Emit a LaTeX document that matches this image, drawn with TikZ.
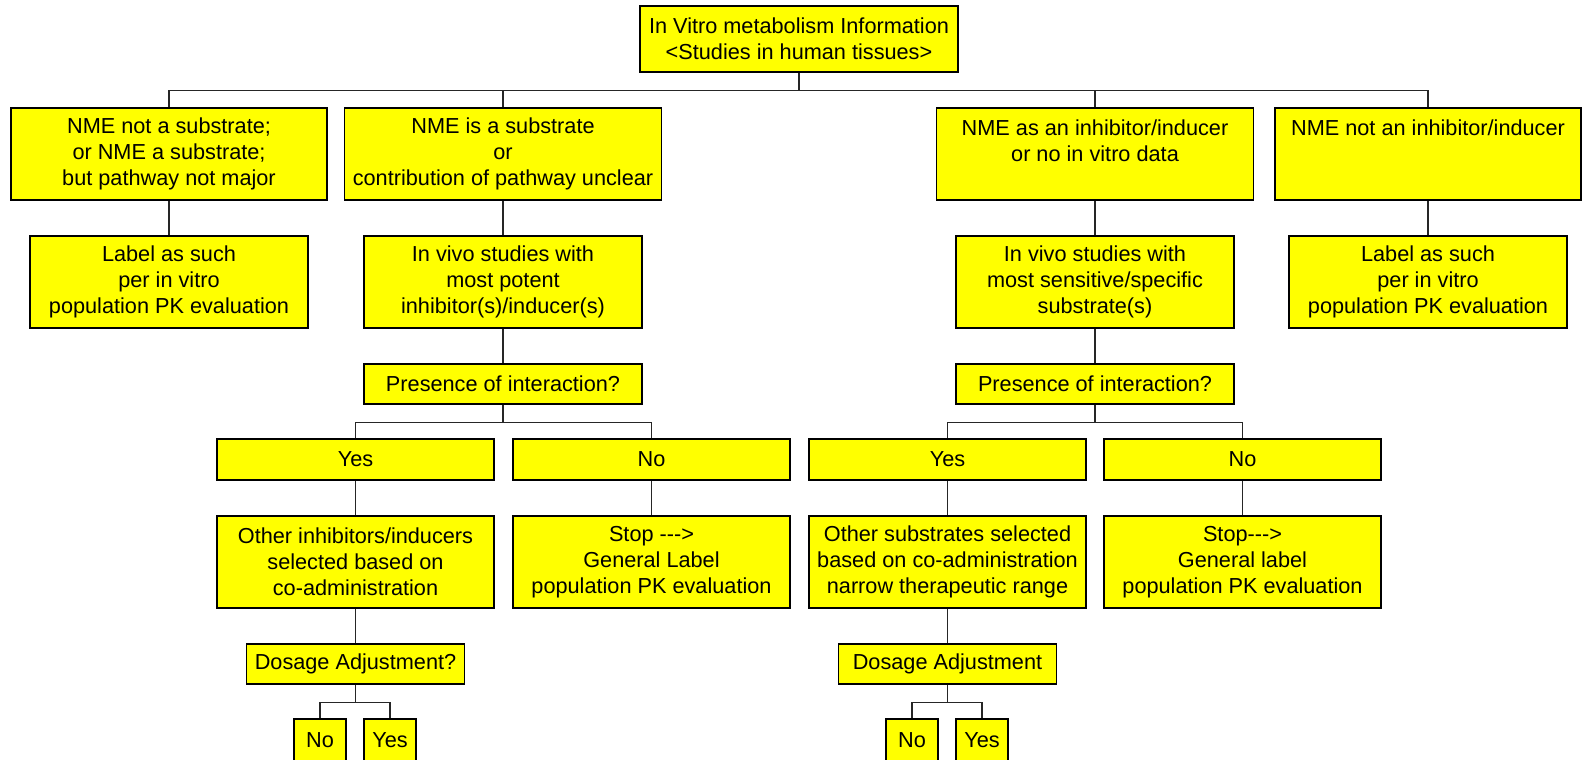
\documentclass[tikz,border=0pt]{standalone}
\usepackage{fontspec}
\setmainfont{Liberation Sans}
\definecolor{boxyellow}{RGB}{255,255,0}
\begin{document}
\begin{tikzpicture}[x=0.5pt,y=-0.5pt,
    box/.style={draw,line width=0.9pt,fill=boxyellow,align=center,inner sep=0pt,
      font=\fontsize{10.85}{13}\selectfont},
    sz/.style 2 args={minimum width=#1*0.5pt,minimum height=#2*0.5pt},
    link/.style={line width=0.55pt,black!85}]
\useasboundingbox (0,0) rectangle (1582,759);
\clip (0,0) rectangle (1582,759);
% top
\node[box,sz={318}{66}] (info) at (799,39) {In Vitro metabolism Information\\<Studies in human tissues>};
% first row
\node[box,sz={316}{92}] (notsub) at (169,154) {NME not a substrate;\\or NME a substrate;\\but pathway not major};
\node[box,sz={317}{92}] (issub) at (503,154) {NME is a substrate\\or\\contribution of pathway unclear};
\node[box,sz={317}{92}] (isinh) at (1095,154) {NME as an inhibitor/inducer\\or no in vitro data\\\mbox{}};
\node[box,sz={306}{92}] (notinh) at (1428,154) {NME not an inhibitor/inducer\\\mbox{}\\\mbox{}};
% second row
\node[box,sz={278}{92}] (label1) at (169,282) {Label as such\\per in vitro\\population PK evaluation};
\node[box,sz={278}{92}] (vivo1) at (503,282) {In vivo studies with\\most potent\\inhibitor(s)/inducer(s)};
\node[box,sz={278}{92}] (vivo2) at (1095,282) {In vivo studies with\\most sensitive/specific\\substrate(s)};
\node[box,sz={278}{92}] (label2) at (1428,282) {Label as such\\per in vitro\\population PK evaluation};
\node[box,sz={278}{40}] (pres1) at (503,384) {Presence of interaction?};
\node[box,sz={278}{40}] (pres2) at (1095,384) {Presence of interaction?};
% yes / no
\foreach \n/\x/\t in {yes1/355.5/Yes, no1/651.5/No, yes2/947.5/Yes, no2/1242.5/No}
  \node[box,sz={277}{41}] (\n) at (\x,459.5) {\t};
\node[box,sz={277}{92}] (other1) at (355.5,562) {Other inhibitors/inducers\\selected based on\\co-administration};
\node[box,sz={277}{92}] (stop1) at (651.5,562) {Stop -\kern0pt-\kern0pt->\\General Label\\population PK evaluation};
\node[box,sz={277}{92}] (other2) at (947.5,562) {Other substrates selected\\based on co-administration\\narrow therapeutic range};
\node[box,sz={277}{92}] (stop2) at (1242.5,562) {Stop-\kern0pt-\kern0pt->\\General label\\population PK evaluation};
\node[box,sz={218}{40}] (dose1) at (355.5,664) {Dosage Adjustment?};
\node[box,sz={218}{40}] (dose2) at (947.5,664) {Dosage Adjustment};
\foreach \n/\x/\t in {dno1/320/No, dyes1/390/Yes, dno2/912/No, dyes2/982/Yes}
  \node[box,sz={52}{42}] (\n) at (\x,740) {\t};
% connectors
\draw[link] (info.south) -- ++(0,18) coordinate (topbus);
\foreach \n in {notsub,issub,isinh,notinh}
  \draw[link] (topbus) -| (\n.north);
\foreach \a/\b in {notsub/label1, issub/vivo1, isinh/vivo2, notinh/label2,
    vivo1/pres1, vivo2/pres2, yes1/other1, no1/stop1, yes2/other2, no2/stop2,
    other1/dose1, other2/dose2}
  \draw[link] (\a) -- (\b);
\draw[link] (pres1.south) -- ++(0,18) coordinate (bus1);
\draw[link] (pres2.south) -- ++(0,18) coordinate (bus2);
\draw[link] (dose1.south) -- ++(0,18) coordinate (bus3);
\draw[link] (dose2.south) -- ++(0,18) coordinate (bus4);
\foreach \c/\n in {bus1/yes1, bus1/no1, bus2/yes2, bus2/no2,
    bus3/dno1, bus3/dyes1, bus4/dno2, bus4/dyes2}
  \draw[link] (\c) -| (\n.north);
\end{tikzpicture}
\end{document}
